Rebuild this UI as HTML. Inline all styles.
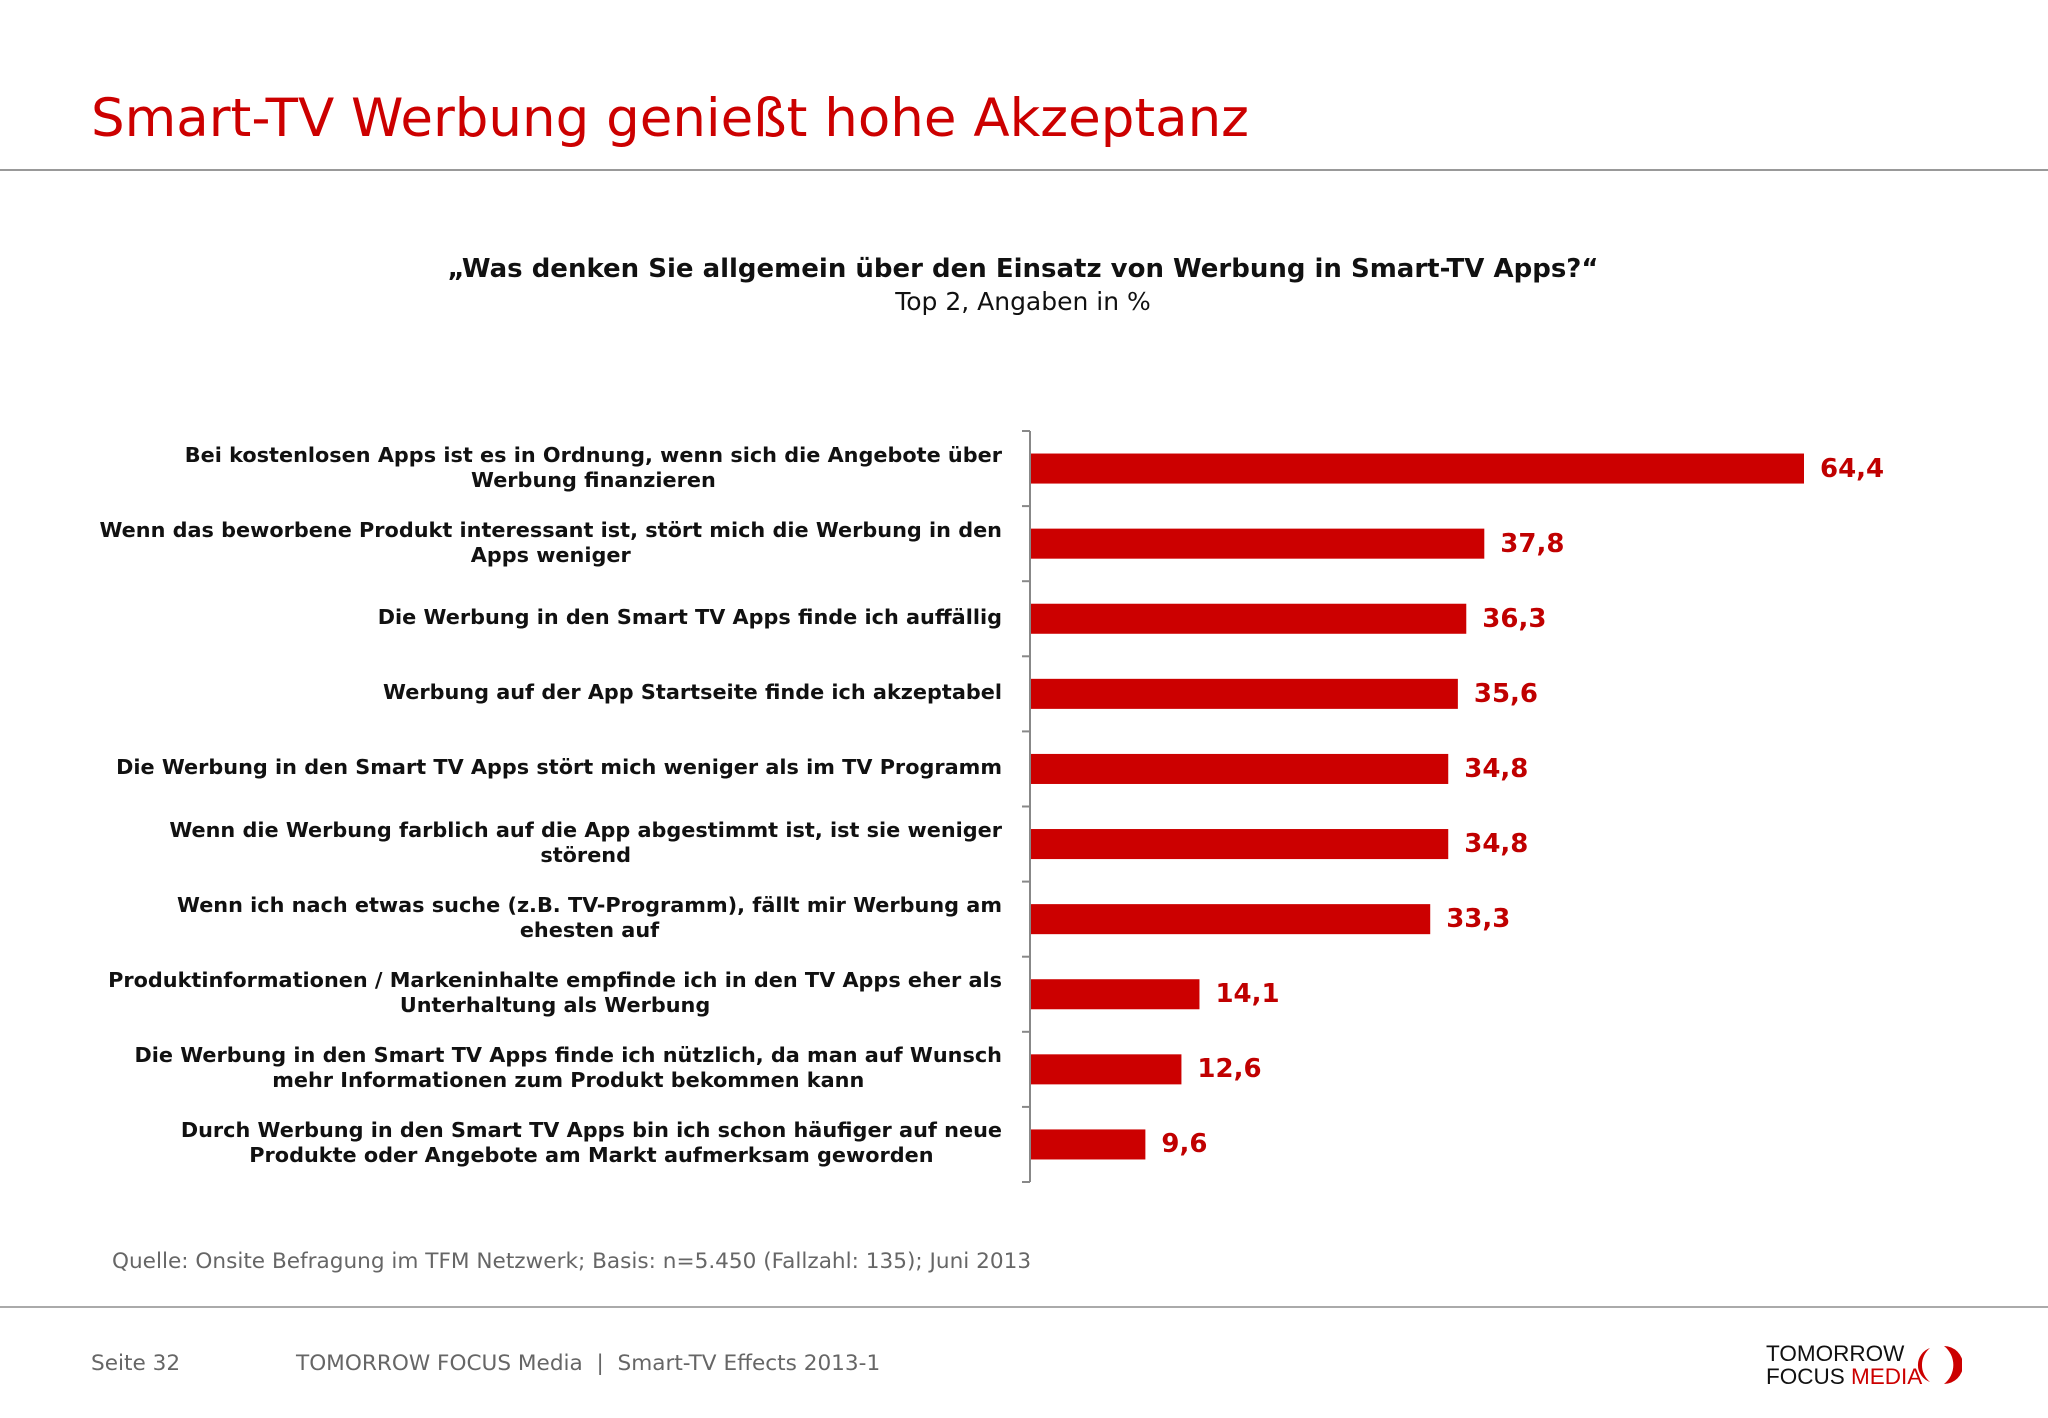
<!DOCTYPE html>
<html><head><meta charset="utf-8"><style>
body{margin:0;width:2048px;height:1418px;background:#fff;position:relative;overflow:hidden;font-family:"DejaVu Sans","Liberation Sans",sans-serif}
.abs{position:absolute}
.lbl{position:absolute;right:1046px;text-align:center;white-space:nowrap;font-weight:bold;font-size:20.8px;line-height:25px;color:#111}
.val{position:absolute;font-weight:bold;font-size:26px;color:#c00000}
</style></head><body>
<div class="abs" style="left:91px;top:88px;font-size:53px;color:#cc0000;white-space:nowrap">Smart-TV Werbung genießt hohe Akzeptanz</div>
<div class="abs" style="left:0;top:169px;width:2048px;height:2px;background:#999"></div>
<div class="abs" style="left:0;width:2046px;top:254px;text-align:center;font-weight:bold;font-size:26px;color:#111">„Was denken Sie allgemein über den Einsatz von Werbung in Smart-TV Apps?“</div>
<div class="abs" style="left:0;width:2046px;top:287px;text-align:center;font-size:25px;color:#111">Top 2, Angaben in %</div>
<svg class="abs" style="left:0;top:0" width="2048" height="1418" id="chart"></svg>
<div id="labels"></div>
<div class="abs" style="left:112px;top:1249px;font-size:21.6px;color:#666">Quelle: Onsite Befragung im TFM Netzwerk; Basis: n=5.450 (Fallzahl: 135); Juni 2013</div>
<div class="abs" style="left:0;top:1306px;width:2048px;height:2px;background:#aaa"></div>
<div class="abs" style="left:91px;top:1351px;font-size:21.6px;color:#666">Seite 32</div>
<div class="abs" style="left:296px;top:1351px;font-size:21.6px;color:#666;white-space:nowrap">TOMORROW FOCUS Media&nbsp; | &nbsp;Smart-TV Effects 2013-1</div>
<div class="abs" style="left:1766px;top:1342px;font-family:'Liberation Sans',sans-serif;font-size:22.5px;line-height:23px;color:#111">TOMORROW<br>FOCUS <span style="color:#cc0000">MEDIA</span></div>
<svg class="abs" style="left:1916px;top:1342px" width="46" height="46"><path d="M14 6 A18 18 0 0 0 14 40 A22 22 0 0 1 14 6Z" fill="#cc0000"/><path d="M28 4 A19 19 0 0 1 28 42 A24 24 0 0 0 28 4Z" fill="#cc0000"/></svg>
<script>
const categories=["Bei kostenlosen Apps ist es in Ordnung, wenn sich die Angebote über<br>Werbung finanzieren","Wenn das beworbene Produkt interessant ist, stört mich die Werbung in den<br>Apps weniger","Die Werbung in den Smart TV Apps finde ich auffällig","Werbung auf der App Startseite finde ich akzeptabel","Die Werbung in den Smart TV Apps stört mich weniger als im TV Programm","Wenn die Werbung farblich auf die App abgestimmt ist, ist sie weniger<br>störend","Wenn ich nach etwas suche (z.B. TV-Programm), fällt mir Werbung am<br>ehesten auf","Produktinformationen / Markeninhalte empfinde ich in den TV Apps eher als<br>Unterhaltung als Werbung","Die Werbung in den Smart TV Apps finde ich nützlich, da man auf Wunsch<br>mehr Informationen zum Produkt bekommen kann","Durch Werbung in den Smart TV Apps bin ich schon häufiger auf neue<br>Produkte oder Angebote am Markt aufmerksam geworden"];
const values=[64.4,37.8,36.3,35.6,34.8,34.8,33.3,14.1,12.6,9.6];
const valueLabels=["64,4","37,8","36,3","35,6","34,8","34,8","33,3","14,1","12,6","9,6"];
const x0=1030,pxPer=(1804-1030)/64.4,top0=431,bottom0=1182;
const band=(bottom0-top0)/categories.length;
const xs=v=>x0+v*pxPer, yb=i=>top0+i*band;
const svg=document.getElementById('chart'),NS='http://www.w3.org/2000/svg';
const lab=document.getElementById('labels');
function mk(t,a){const e=document.createElementNS(NS,t);for(const k in a)e.setAttribute(k,a[k]);svg.appendChild(e);return e;}
const ax=mk('line',{x1:x0,y1:top0,x2:x0,y2:bottom0,stroke:'#888','stroke-width':2});


for(let i=0;i<=categories.length;i++){
 const t=mk('line',{x1:x0-8,y1:yb(i),x2:x0,y2:yb(i),stroke:'#888','stroke-width':2});
 
 
}
values.forEach((v,i)=>{
 const h=band*0.4,y=yb(i)+band/2-h/2;
 const r=mk('rect',{x:x0+1,y:y,width:xs(v)-x0-1,height:h,fill:'#cc0000'});
 
 
 const d=document.createElement('div');d.className='val';
 d.style.left=(xs(v)+16)+'px';d.style.top=(yb(i)+band/2-15)+'px';
 d.textContent=valueLabels[i];
 
 
 lab.appendChild(d);
 const l=document.createElement('div');l.className='lbl';
 l.innerHTML=categories[i];
 
 
 lab.appendChild(l);
 const lines=categories[i].split('<br>').length;
 l.style.top=(yb(i)+band/2-lines*25/2-1)+'px';
});
</script>
</body></html>
